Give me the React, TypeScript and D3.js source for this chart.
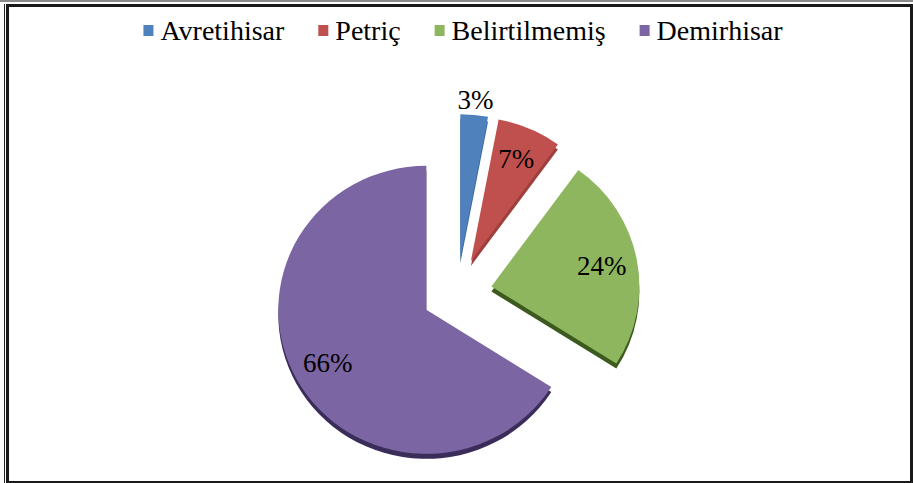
import React from "react";
import * as d3 from "d3";

const categories = ["Avretihisar", "Petriç", "Belirtilmemiş", "Demirhisar"];
const values = [3, 7, 24, 66];
const labels = ["3%", "7%", "24%", "66%"];
const colors = ["#4F81BD", "#C0504D", "#8DB65E", "#7B65A3"];
const sideColors = ["#3F6A9E", "#9E3F3C", "#3C5A1E", "#3A2D5A"];
const explode = [35, 35, 35, 35];
const labelFactor = [1.1, 0.77, 0.76, 0.76];

const W = 913;
const H = 483;
const CX = 457;
const CY = 293;
const RX = 148;
const RY = 144;
const DEPTH = 5;
const FONT = "Liberation Serif, Times New Roman, Times, DejaVu Serif, serif";

function measure(text: string, font: string): number {
  const c = document.createElement("canvas");
  const ctx = c.getContext("2d");
  if (!ctx) return text.length * 12;
  ctx.font = font;
  return ctx.measureText(text).width;
}

export default function App() {
  const pie = d3.pie<number>().sort(null).startAngle(0).endAngle(2 * Math.PI);
  const arcs = pie(values);
  const arcGen = d3.arc<d3.PieArcDatum<number>>().innerRadius(0).outerRadius(RX);
  const k = RY / RX;

  const legendFont = "28px \"Liberation Serif\", serif";
  const sq = 10;
  const gapSqText = 7;
  const gapItems = 34;
  const widths = categories.map((c) => measure(c, legendFont));
  const itemWidths = widths.map((w) => sq + gapSqText + w);
  const total = itemWidths.reduce((a, b) => a + b, 0) + gapItems * (categories.length - 1);
  let lx = 463 - total / 2;
  const legendItems = categories.map((c, i) => {
    const x = lx;
    lx += itemWidths[i] + gapItems;
    return { c, x, i };
  });

  const slices = arcs.map((a, i) => {
    const mid = (a.startAngle + a.endAngle) / 2;
    const ox = CX + explode[i] * Math.sin(mid);
    const oy = CY - explode[i] * Math.cos(mid);
    const lxp = ox + labelFactor[i] * RX * Math.sin(mid);
    const lyp = oy - labelFactor[i] * RY * Math.cos(mid);
    return { a, i, ox, oy, lxp, lyp, d: arcGen(a) || "" };
  });

  return (
    <svg
      width={W}
      height={H}
      style={{ position: "fixed", left: 0, top: 0, display: "block", background: "#fff" }}
    >
      <rect x={0} y={0} width={W} height={H} fill="#fff" />
      {/* frame */}
      <rect x={0} y={0} width={W} height={2} fill="#8a8a8a" />
      <rect x={4} y={4} width={1} height={H - 4} fill="#222" />
      <rect x={6} y={4} width={W - 6} height={3} fill="#1a1a1a" />
      <rect x={6} y={4} width={3} height={H - 4} fill="#1a1a1a" />
      <rect x={910} y={4} width={3} height={H - 4} fill="#1a1a1a" />
      <rect x={6} y={481} width={W - 6} height={2} fill="#1a1a1a" />

      {/* legend */}
      {legendItems.map(({ c, x, i }) => (
        <g key={c}>
          <rect x={x} y={25} width={sq} height={11} fill={colors[i]} />
          <text
            x={x + sq + gapSqText}
            y={40}
            style={{ fontFamily: FONT, fontSize: "28px" }}
            fill="#000"
          >
            {c}
          </text>
        </g>
      ))}

      {/* depth */}
      {slices.map((s) => (
        <path
          key={"side" + s.i}
          d={s.d}
          transform={`translate(${s.ox},${s.oy + DEPTH}) scale(1,${k})`}
          fill={sideColors[s.i]}
        />
      ))}
      {/* top faces */}
      {slices.map((s) => (
        <path
          key={"top" + s.i}
          d={s.d}
          transform={`translate(${s.ox},${s.oy}) scale(1,${k})`}
          fill={colors[s.i]}
        />
      ))}
      {/* labels */}
      {slices.map((s) => (
        <text
          key={"lab" + s.i}
          x={s.lxp}
          y={s.lyp}
          textAnchor="middle"
          dominantBaseline="central"
          style={{ fontFamily: FONT, fontSize: "27px" }}
          fill="#000"
        >
          {labels[s.i]}
        </text>
      ))}
    </svg>
  );
}
